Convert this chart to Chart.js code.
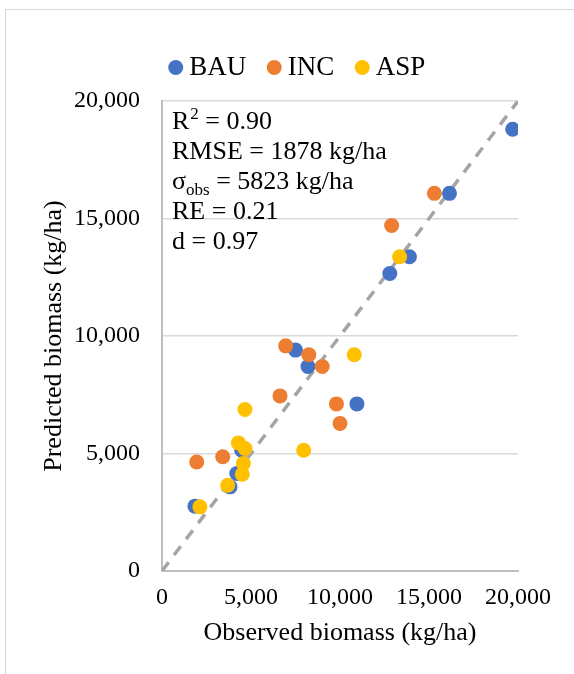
<!DOCTYPE html>
<html>
<head>
<meta charset="utf-8">
<script src="https://cdn.jsdelivr.net/npm/chart.js@4.4.0/dist/chart.umd.min.js"></script>
<style>
  body { margin: 0; background: #fff; }
  #wrap { position: relative; width: 574px; height: 674px; overflow: hidden; }
  #frame { position: absolute; left: 5px; top: 9px; width: 620px; height: 720px; border: 1px solid #d9d9d9; }
  canvas { position: absolute; left: 0; top: 0; }
</style>
</head>
<body>
<div id="wrap">
  <div id="frame"></div>
  <canvas id="scatter" width="574" height="674"></canvas>
</div>
<script>
// observed / predicted biomass (kg/ha)
var bauObs  = [19700, 16150, 13900, 12800, 7500, 8200, 10950, 4480, 4200, 3820, 1850];
var bauPred = [18800, 16070, 13370, 12660, 9400, 8700, 7110, 5140, 4150, 3580, 2760];

var incObs  = [15300, 12900, 6950, 8250, 9000, 6630, 9800, 10000, 3410, 1950];
var incPred = [16070, 14700, 9580, 9200, 8700, 7450, 7110, 6280, 4860, 4640];

var aspObs  = [13350, 10800, 4660, 4290, 4660, 7960, 4570, 4510, 3690, 2130];
var aspPred = [13370, 9200, 6870, 5450, 5210, 5140, 4570, 4120, 3650, 2730];

var oneToOne = [0, 20000];

var tickValues = [0, 5000, 10000, 15000, 20000];
var tickLabels = ['0', '5,000', '10,000', '15,000', '20,000'];

var statLines = [
  ['R', '2', '', ' = 0.90'],
  ['RMSE = 1878 kg/ha', '', '', ''],
  ['\u03C3', '', 'obs', ' = 5823 kg/ha'],
  ['RE = 0.21', '', '', ''],
  ['d = 0.97', '', '', '']
];

var serif = "'Liberation Serif', 'Times New Roman', serif";

function points(xs, ys) {
  return xs.map(function(x, i) { return { x: x, y: ys[i] }; });
}

function setTicks(scale) {
  scale.ticks = tickValues.map(function(v) { return { value: v }; });
}

function tickLabel(value) {
  var i = tickValues.indexOf(value);
  return i >= 0 ? tickLabels[i] : '';
}

// fixed legend height, legend row nudged right like the original
var legendTweak = {
  id: 'legendTweak',
  beforeInit: function(chart) {
    var fit = chart.legend.fit;
    chart.legend.fit = function() {
      fit.bind(chart.legend)();
      this.height = 75;
    };
  },
  afterLayout: function(chart) {
    chart.legend.left += 22;
    chart.legend.right += 22;
  }
};

var statsBox = {
  id: 'statsBox',
  afterDraw: function(chart) {
    var ctx = chart.ctx;
    var x0 = chart.chartArea.left + 10;
    var y0 = 129;
    ctx.save();
    ctx.fillStyle = '#000';
    ctx.textBaseline = 'alphabetic';
    ctx.textAlign = 'left';
    statLines.forEach(function(line, i) {
      var y = y0 + i * 30;
      var x = x0;
      ctx.font = '26px ' + serif;
      ctx.fillText(line[0], x, y);
      x += ctx.measureText(line[0]).width;
      if (line[1]) {
        ctx.font = '17px ' + serif;
        ctx.fillText(line[1], x + 1, y - 10);
        x += ctx.measureText(line[1]).width + 1;
      }
      if (line[2]) {
        ctx.font = '17px ' + serif;
        ctx.fillText(line[2], x, y + 6);
        x += ctx.measureText(line[2]).width;
      }
      if (line[3]) {
        ctx.font = '26px ' + serif;
        ctx.fillText(line[3], x, y);
      }
    });
    ctx.restore();
  }
};

function drawChart() {
  var ctx = document.getElementById('scatter').getContext('2d');
  new Chart(ctx, {
    type: 'scatter',
    data: {
      datasets: [{
        label: 'BAU',
        data: points(bauObs, bauPred),
        backgroundColor: '#4472C4',
        borderWidth: 0,
        pointRadius: 7.5,
        order: 3
      }, {
        label: 'INC',
        data: points(incObs, incPred),
        backgroundColor: '#ED7D31',
        borderWidth: 0,
        pointRadius: 7.5,
        order: 2
      }, {
        label: 'ASP',
        data: points(aspObs, aspPred),
        backgroundColor: '#FFC000',
        borderWidth: 0,
        pointRadius: 7.5,
        order: 1
      }, {
        label: '1:1',
        type: 'line',
        data: points(oneToOne, oneToOne),
        borderColor: '#a5a5a5',
        borderWidth: 3.5,
        borderDash: [11, 9],
        pointRadius: 0,
        fill: false,
        order: 4
      }]
    },
    options: {
      responsive: false,
      animation: false,
      layout: { padding: { top: 26, left: 39, right: 56, bottom: 25 } },
      plugins: {
        tooltip: { enabled: false },
        legend: {
          position: 'top',
          labels: {
            usePointStyle: true,
            pointStyle: 'circle',
            boxWidth: 0.01,
            boxHeight: 10.6,
            padding: 28,
            color: '#000',
            font: { family: serif, size: 27 },
            filter: function(item) { return item.datasetIndex !== 3; },
            sort: function(a, b) { return a.datasetIndex - b.datasetIndex; }
          }
        }
      },
      scales: {
        x: {
          type: 'linear',
          min: 0,
          max: 20000,
          afterBuildTicks: setTicks,
          afterFit: function(scale) { scale.height = 78; },
          grid: { display: false, drawTicks: false },
          border: { color: '#bfbfbf', width: 2 },
          ticks: {
            padding: 12,
            color: '#000',
            font: { family: serif, size: 24 },
            callback: tickLabel
          },
          title: {
            display: true,
            text: 'Observed biomass (kg/ha)',
            color: '#000',
            font: { family: serif, size: 26 },
            padding: { top: 0, bottom: 0 }
          }
        },
        y: {
          type: 'linear',
          min: 0,
          max: 20000,
          afterBuildTicks: setTicks,
          afterFit: function(scale) { scale.width = 123; },
          grid: { color: '#d9d9d9', lineWidth: 1.5, drawTicks: false },
          border: { color: '#bfbfbf', width: 2 },
          ticks: {
            padding: 22,
            color: '#000',
            font: { family: serif, size: 24 },
            callback: tickLabel
          },
          title: {
            display: true,
            text: 'Predicted biomass (kg/ha)',
            color: '#000',
            font: { family: serif, size: 26 },
            padding: { top: 0, bottom: 0 }
          }
        }
      }
    },
    plugins: [legendTweak, statsBox]
  });
}

drawChart();
</script>
</body>
</html>
